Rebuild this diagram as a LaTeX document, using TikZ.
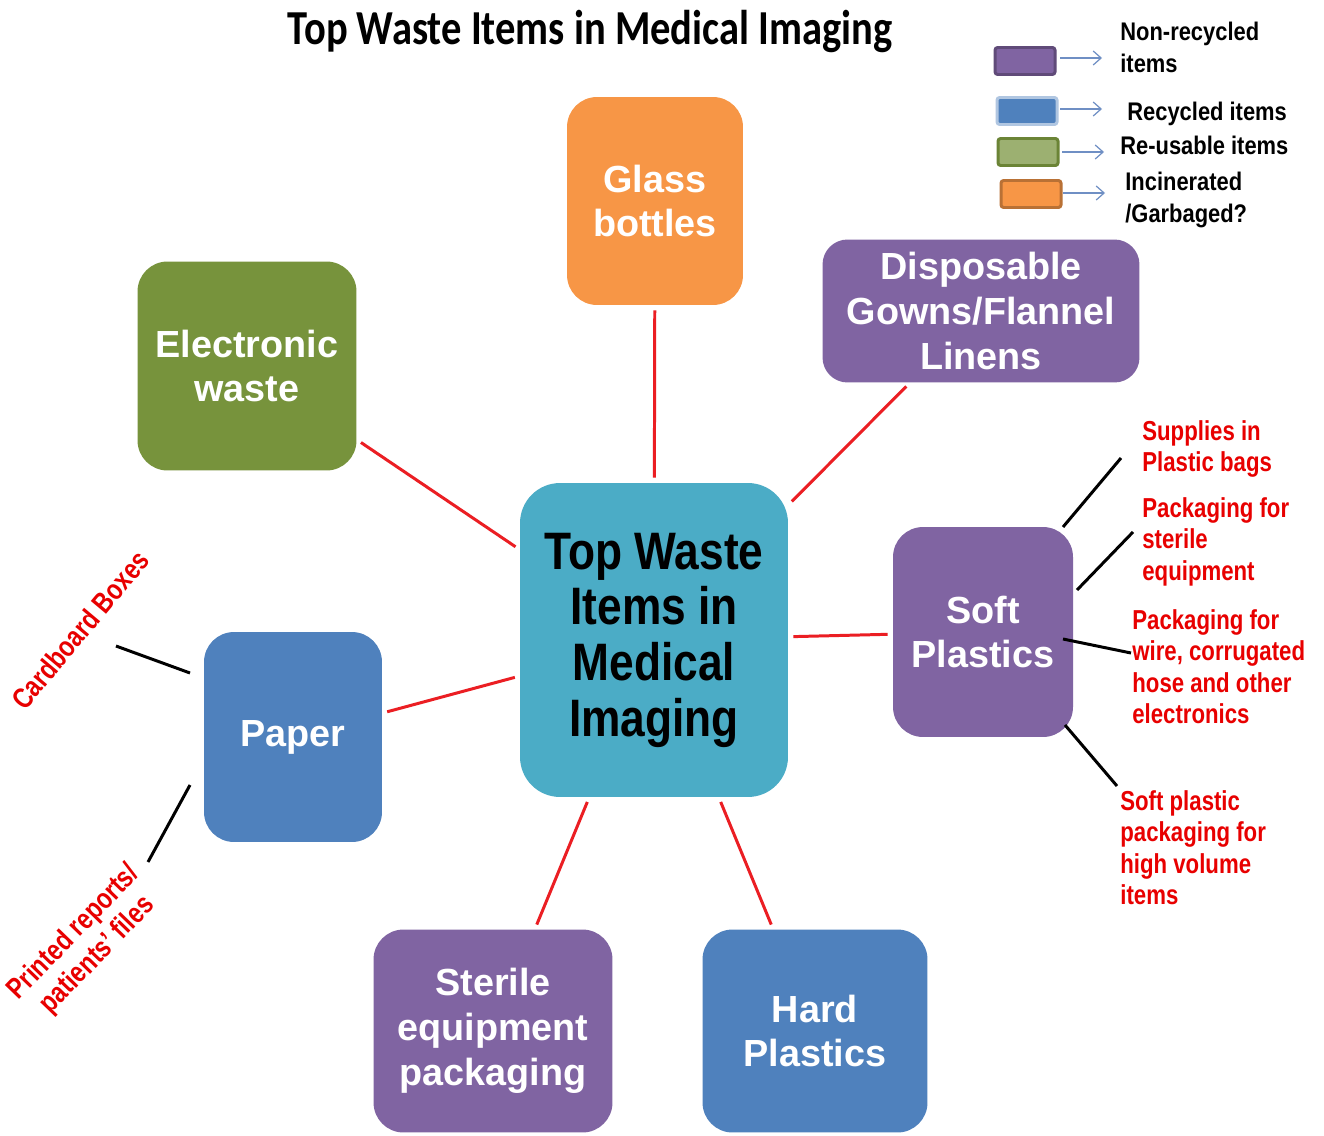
\documentclass[tikz,border=0pt]{standalone}
\usepackage{fontspec}
\setmainfont{Liberation Sans}
\newfontfamily\ctrfam{Liberation Sans}[FakeStretch=0.84]
\newfontfamily\redfam{Liberation Sans}[FakeStretch=0.81]
\newfontfamily\legfam{Liberation Sans}[FakeStretch=0.86]
\newfontfamily\ttlfam{Carlito}[FakeStretch=0.83]
\usetikzlibrary{arrows.meta}
\definecolor{cOrange}{HTML}{F79646}
\definecolor{cPurple}{HTML}{8064A2}
\definecolor{cGreen}{HTML}{77933C}
\definecolor{cTeal}{HTML}{4BACC6}
\definecolor{cBlue}{HTML}{4F81BD}
\definecolor{cRed}{RGB}{232,0,0}
\definecolor{cLine}{RGB}{235,30,35}
\definecolor{cArrow}{HTML}{6F8FC4}
\begin{document}
\begin{tikzpicture}[x=0.02cm,y=-0.02cm,
  box/.style={rectangle, rounded corners=0.6cm, inner sep=0pt, align=center,
    text=white, font=\fontsize{21.5}{25.5}\selectfont\bfseries},
  ctrbox/.style={rectangle, rounded corners=0.8cm, inner sep=0pt, align=center,
    fill=cTeal, text=black, font=\ctrfam\bfseries\fontsize{30}{31.7}\selectfont},
  redlbl/.style={anchor=north west, inner sep=0pt, align=left, text=cRed,
    font=\redfam\bfseries\fontsize{15.6}{17.9}\selectfont},
  rotlbl/.style={inner sep=0pt, align=center, text=cRed,
    font=\redfam\bfseries\fontsize{16.5}{18.5}\selectfont},
  leglbl/.style={anchor=north west, inner sep=0pt, align=left, text=black,
    font=\legfam\bfseries\fontsize{14.5}{17.8}\selectfont},
  legbox/.style={rectangle, rounded corners=1.5pt, line width=1.7pt,
    minimum width=1.2cm, minimum height=0.54cm, inner sep=0pt},
  legarrow/.style={draw=cArrow, line width=0.7pt, -{Straight Barb[length=4.5pt,width=8pt]}},
  redcon/.style={draw=cLine, line width=1.7pt, shorten >=0.1cm, shorten <=0.1cm},
  blkcon/.style={draw=black, line width=1.7pt}
]
\useasboundingbox (0,0) rectangle (1324,1135);
\fill[white] (0,0) rectangle (1324,1135);

% title
\node[anchor=base, inner sep=0pt, font=\ttlfam\bfseries\fontsize{27.8}{30}\selectfont] (title) at (590,45) {Top Waste Items in Medical Imaging};

% main boxes
\node[ctrbox, minimum width=5.36cm, minimum height=6.28cm] (center) at (654,640) {Top Waste\\Items in\\Medical\\Imaging};
\node[box, fill=cOrange, minimum width=3.52cm, minimum height=4.16cm] (glass) at (655,201) {Glass\\bottles};
\node[box, fill=cPurple, rounded corners=0.5cm, minimum width=6.34cm, minimum height=2.86cm] (gowns) at (981,311) {Disposable\\Gowns/Flannel\\Linens};
\node[box, fill=cGreen, minimum width=4.38cm, minimum height=4.18cm] (ewaste) at (247,366) {Electronic\\waste};
\node[box, fill=cPurple, minimum width=3.6cm, minimum height=4.2cm] (soft) at (983,632) {Soft\\Plastics};
\node[box, fill=cBlue, minimum width=3.56cm, minimum height=4.2cm] (paper) at (293,737) {Paper};
\node[box, fill=cPurple, minimum width=4.78cm, minimum height=4.06cm] (sterile) at (493,1031) {Sterile\\equipment\\packaging};
\node[box, fill=cBlue, minimum width=4.5cm, minimum height=4.06cm] (hard) at (815,1031) {Hard\\Plastics};

% red connectors
\draw[redcon] (center) -- (glass);
\draw[redcon] (center) -- (gowns);
\draw[redcon] (center) -- (ewaste);
\draw[redcon] (center) -- (soft);
\draw[redcon] (center) -- (paper);
\draw[redcon] (center) -- (sterile);
\draw[redcon] (center) -- (hard);

% soft plastics sub-items
\node[redlbl] (s1) at (1142,420) {Supplies in\\Plastic bags};
\node[redlbl] (s2) at (1142,497) {Packaging for\\sterile\\equipment};
\node[redlbl] (s3) at (1132,609) {Packaging for\\wire, corrugated\\hose and other\\electronics};
\node[redlbl] (s4) at (1120,790) {Soft plastic\\packaging for\\high volume\\items};
\coordinate (s1a) at (1063,527); \coordinate (s1b) at (1121,458);
\coordinate (s2a) at (1077,590); \coordinate (s2b) at (1133,532);
\coordinate (s3a) at (1063,639); \coordinate (s3b) at (1131,653);
\coordinate (s4a) at (1065,725); \coordinate (s4b) at (1117,786);
\draw[blkcon] (s1a) -- (s1b);
\draw[blkcon] (s2a) -- (s2b);
\draw[blkcon] (s3a) -- (s3b);
\draw[blkcon] (s4a) -- (s4b);

% paper sub-items
\node[rotlbl, rotate=50] (p1) at (80,630) {Cardboard Boxes};
\node[rotlbl, rotate=46] (p2) at (86,944) {Printed reports/\\patients’ files};
\coordinate (p1a) at (190,673); \coordinate (p1b) at (116,646);
\coordinate (p2a) at (190,785); \coordinate (p2b) at (148,862);
\draw[blkcon] (p1a) -- (p1b);
\draw[blkcon] (p2a) -- (p2b);

% legend
\node[legbox, fill=cPurple, draw=black!25!cPurple] (lgP) at (1025,61) {};
\node[legbox, fill=cBlue, draw=cBlue!45!white] (lgB) at (1027,111) {};
\node[legbox, fill=cGreen!70!white!90!cGreen, draw=cGreen!90!black] (lgG) at (1028,152) {};
\node[legbox, fill=cOrange, draw=cOrange!75!black] (lgO) at (1031,194) {};
\node[leglbl] (lt1) at (1120,22) {Non-recycled\\items};
\node[leglbl] (lt2) at (1127,102) {Recycled items};
\node[leglbl] (lt3) at (1120,136) {Re-usable items};
\node[leglbl] (lt4) at (1125,172) {Incinerated\\/Garbaged?};
\coordinate (a1a) at (1060,58);  \coordinate (a1b) at (1102,58);
\coordinate (a2a) at (1060,109); \coordinate (a2b) at (1102,109);
\coordinate (a3a) at (1062,152); \coordinate (a3b) at (1104,152);
\coordinate (a4a) at (1063,193); \coordinate (a4b) at (1105,193);
\draw[legarrow] (a1a) -- (a1b);
\draw[legarrow] (a2a) -- (a2b);
\draw[legarrow] (a3a) -- (a3b);
\draw[legarrow] (a4a) -- (a4b);
\end{tikzpicture}
\end{document}
